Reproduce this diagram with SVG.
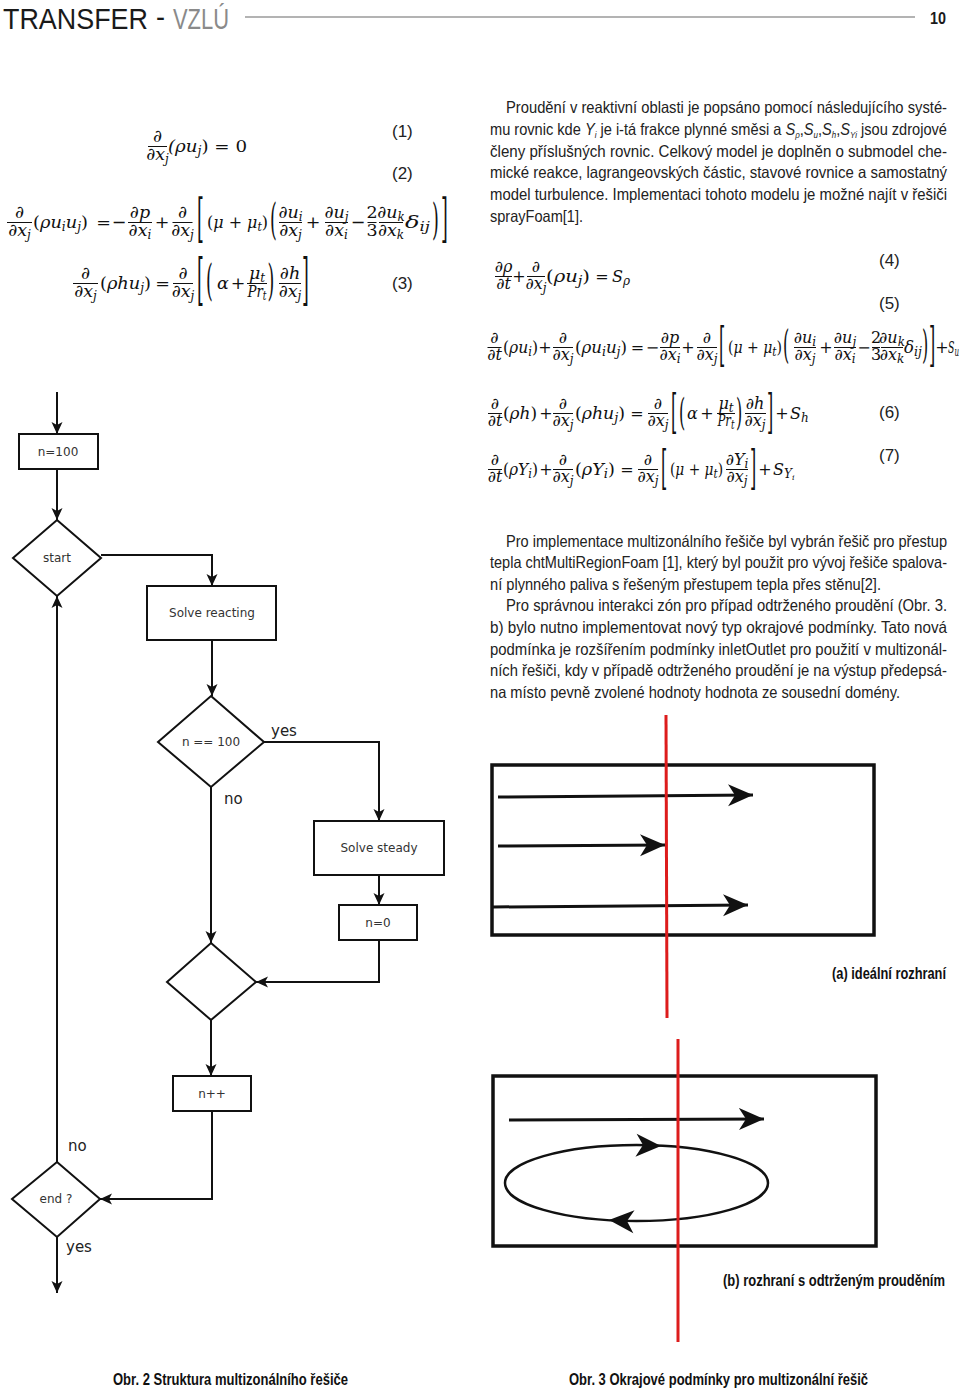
<svg xmlns="http://www.w3.org/2000/svg" width="960" height="1390" viewBox="0 0 960 1390">
<style>
.bg{fill:#fff}
.m{font-family:"DejaVu Serif","Liberation Serif",serif;font-style:italic;font-size:17.5px;fill:#111}
.rr{font-size:16px}
.up{font-style:normal}
.sb{font-size:12px}
.bar{stroke:#111;stroke-width:1}
.en{font-family:"Liberation Sans",Arial,sans-serif;font-size:17px;fill:#222}
.bt{font-family:"Liberation Sans Narrow","Liberation Sans",Arial,sans-serif;font-size:16.5px;fill:#222}
.cap{font-family:"Liberation Sans Narrow","Liberation Sans",Arial,sans-serif;font-size:16px;font-weight:bold;fill:#111}
.fl{fill:none;stroke:#111;stroke-width:2}
.nd{fill:#fff;stroke:#111;stroke-width:2}
.ft{font-family:"DejaVu Sans","Noto Sans",sans-serif;font-size:12px;fill:#333;text-anchor:middle}
.lb{font-family:"DejaVu Sans","Noto Sans",sans-serif;font-size:15px;fill:#222}
.fig{fill:none;stroke:#111;stroke-width:3.5}
.red{stroke:#dd1c1c;stroke-width:3}
.fa{stroke:#111;stroke-width:3;fill:none}
</style>
<defs>
<marker id="ah" markerWidth="12" markerHeight="12" refX="12" refY="6" orient="auto" markerUnits="userSpaceOnUse"><path d="M0,0.5 L12,6 L0,11.5 L3,6 z" fill="#111"/></marker>
<marker id="bh" markerWidth="26" markerHeight="24" refX="25" refY="12" orient="auto" markerUnits="userSpaceOnUse"><path d="M0,1 L25,12 L0,23 L7,12 z" fill="#111"/></marker>
</defs>
<rect class="bg" x="0" y="0" width="960" height="1390"/>

<g id="header">
<text x="3" y="29" font-family="Liberation Sans Narrow,Liberation Sans,Arial,sans-serif" font-size="30" fill="#1a1a1a" textLength="145" lengthAdjust="spacingAndGlyphs">TRANSFER</text>
<text x="156" y="27" font-family="Liberation Sans,Arial,sans-serif" font-size="30" fill="#1a1a1a" textLength="9" lengthAdjust="spacingAndGlyphs">-</text>
<text x="173" y="29" font-family="Liberation Sans Narrow,Liberation Sans,Arial,sans-serif" font-size="30" fill="#8a8a8a" textLength="56" lengthAdjust="spacingAndGlyphs">VZLÚ</text>
<line x1="245" y1="17" x2="915" y2="17" stroke="#9a9a9a" stroke-width="1.5"/>
<text x="930" y="24" font-family="Liberation Sans,Arial,sans-serif" font-size="17" font-weight="bold" fill="#1a1a1a" textLength="16" lengthAdjust="spacingAndGlyphs">10</text>
</g>

<g id="eq1">
<text class="m" x="157.5" y="142" text-anchor="middle">∂</text>
<line class="bar" x1="148" y1="146.5" x2="167" y2="146.5"/>
<text class="m" x="157.5" y="160" text-anchor="middle">∂x<tspan class="sb" dy="3">j</tspan></text>
<text class="m" x="168" y="152" textLength="79" lengthAdjust="spacingAndGlyphs">(ρu<tspan class="sb" dy="3">j</tspan><tspan class="up" dy="-3">) = 0</tspan></text>
<text class="en" x="392" y="137">(1)</text>
</g>

<g id="eq2">
<text class="m" x="19.5" y="218" text-anchor="middle">∂</text>
<line class="bar" x1="7" y1="222.5" x2="32" y2="222.5"/>
<text class="m" x="19.5" y="236" text-anchor="middle">∂x<tspan class="sb" dy="3">j</tspan></text>
<text class="m" x="33" y="228" textLength="55" lengthAdjust="spacingAndGlyphs"><tspan class="up">(</tspan>ρu<tspan class="sb" dy="3">i</tspan><tspan dy="-3">u</tspan><tspan class="sb" dy="3">j</tspan><tspan class="up" dy="-3">)</tspan></text>
<text class="m up" x="103.5" y="228" text-anchor="middle">=</text>
<text class="m up" x="119" y="228" text-anchor="middle">−</text>
<text class="m" x="140" y="218" text-anchor="middle">∂p</text>
<line class="bar" x1="128" y1="222.5" x2="152" y2="222.5"/>
<text class="m" x="140" y="236" text-anchor="middle">∂x<tspan class="sb" dy="3">i</tspan></text>
<text class="m up" x="162" y="228" text-anchor="middle">+</text>
<text class="m" x="182.5" y="218" text-anchor="middle">∂</text>
<line class="bar" x1="172.5" y1="222.5" x2="192.5" y2="222.5"/>
<text class="m" x="182.5" y="236" text-anchor="middle">∂x<tspan class="sb" dy="3">j</tspan></text>
<text class="m up" transform="translate(197,221) scale(1,3)" y="5">[</text>
<text class="m" x="207" y="228" textLength="61" lengthAdjust="spacingAndGlyphs"><tspan class="up">(</tspan>μ <tspan class="up">+</tspan> μ<tspan class="sb" dy="3">t</tspan><tspan class="up" dy="-3">)</tspan></text>
<text class="m up" transform="translate(270,221) scale(1,2.5)" y="5">(</text>
<text class="m" x="290.5" y="218" text-anchor="middle">∂u<tspan class="sb" dy="3">i</tspan></text>
<line class="bar" x1="279" y1="222.5" x2="302" y2="222.5"/>
<text class="m" x="290.5" y="236" text-anchor="middle">∂x<tspan class="sb" dy="3">j</tspan></text>
<text class="m up" x="313" y="228" text-anchor="middle">+</text>
<text class="m" x="336.5" y="218" text-anchor="middle">∂u<tspan class="sb" dy="3">j</tspan></text>
<line class="bar" x1="325" y1="222.5" x2="348" y2="222.5"/>
<text class="m" x="336.5" y="236" text-anchor="middle">∂x<tspan class="sb" dy="3">i</tspan></text>
<text class="m up" x="358" y="228" text-anchor="middle">−</text>
<text class="m up" x="372" y="218" text-anchor="middle">2</text>
<line class="bar" x1="367.5" y1="222.5" x2="376.5" y2="222.5"/>
<text class="m up" x="372" y="236" text-anchor="middle">3</text>
<text class="m" x="391" y="218" text-anchor="middle">∂u<tspan class="sb" dy="3">k</tspan></text>
<line class="bar" x1="379" y1="222.5" x2="403" y2="222.5"/>
<text class="m" x="391" y="236" text-anchor="middle">∂x<tspan class="sb" dy="3">k</tspan></text>
<text class="m" x="405" y="228" textLength="25" lengthAdjust="spacingAndGlyphs">δ<tspan class="sb" dy="3">ij</tspan></text>
<text class="m up" transform="translate(432,221) scale(1,2.5)" y="5">)</text>
<text class="m up" transform="translate(441,221) scale(1,3)" y="5">]</text>
<text class="en" x="392" y="179">(2)</text>
</g>

<g id="eq3">
<text class="m" x="85.5" y="279" text-anchor="middle">∂</text>
<line class="bar" x1="73" y1="283.5" x2="98" y2="283.5"/>
<text class="m" x="85.5" y="297" text-anchor="middle">∂x<tspan class="sb" dy="3">j</tspan></text>
<text class="m" x="100" y="289" textLength="51" lengthAdjust="spacingAndGlyphs"><tspan class="up">(</tspan>ρhu<tspan class="sb" dy="3">j</tspan><tspan class="up" dy="-3">)</tspan></text>
<text class="m up" x="162.5" y="289" text-anchor="middle">=</text>
<text class="m" x="183" y="279" text-anchor="middle">∂</text>
<line class="bar" x1="173" y1="283.5" x2="193" y2="283.5"/>
<text class="m" x="183" y="297" text-anchor="middle">∂x<tspan class="sb" dy="3">j</tspan></text>
<text class="m up" transform="translate(197,283) scale(1,3.2)" y="5">[</text>
<text class="m up" transform="translate(206,283) scale(1,2.4)" y="5">(</text>
<text class="m" x="217" y="289">α</text>
<text class="m up" x="238" y="289" text-anchor="middle">+</text>
<text class="m" x="257" y="279" text-anchor="middle">μ<tspan class="sb" dy="3">t</tspan></text>
<line class="bar" x1="247" y1="283.5" x2="267" y2="283.5"/>
<text class="m" x="257" y="297" text-anchor="middle" textLength="19" lengthAdjust="spacingAndGlyphs">Pr<tspan class="sb" dy="3">t</tspan></text>
<text class="m up" transform="translate(267.5,283) scale(1,2.4)" y="5">)</text>
<text class="m" x="290" y="279" text-anchor="middle">∂h</text>
<line class="bar" x1="279" y1="283.5" x2="301" y2="283.5"/>
<text class="m" x="290" y="297" text-anchor="middle">∂x<tspan class="sb" dy="3">j</tspan></text>
<text class="m up" transform="translate(302,283) scale(1,3.2)" y="5">]</text>
<text class="en" x="392" y="289">(3)</text>
</g>

<g id="para1">
<text class="bt" x="506" y="113" textLength="441" lengthAdjust="spacingAndGlyphs">Proudění v reaktivní oblasti je popsáno pomocí následujícího systé-</text>
<text class="bt" x="490" y="135" textLength="457" lengthAdjust="spacingAndGlyphs">mu rovnic kde <tspan font-style="italic">Y</tspan><tspan font-size="9" font-style="italic" dy="3">i</tspan><tspan dy="-3"> je i-tá frakce plynné směsi a </tspan><tspan font-style="italic">S</tspan><tspan font-size="9" font-style="italic" dy="3">ρ</tspan><tspan dy="-3">,</tspan><tspan font-style="italic">S</tspan><tspan font-size="9" font-style="italic" dy="3">u</tspan><tspan dy="-3">,</tspan><tspan font-style="italic">S</tspan><tspan font-size="9" font-style="italic" dy="3">h</tspan><tspan dy="-3">,</tspan><tspan font-style="italic">S</tspan><tspan font-size="9" font-style="italic" dy="3">Yi</tspan><tspan dy="-3"> jsou zdrojové</tspan></text>
<text class="bt" x="490" y="157" textLength="457" lengthAdjust="spacingAndGlyphs">členy příslušných rovnic. Celkový model je doplněn o submodel che-</text>
<text class="bt" x="490" y="178" textLength="457" lengthAdjust="spacingAndGlyphs">mické reakce, lagrangeovských částic, stavové rovnice a samostatný</text>
<text class="bt" x="490" y="200" textLength="457" lengthAdjust="spacingAndGlyphs">model turbulence. Implementaci tohoto modelu je možné najít v řešiči</text>
<text class="bt" x="490" y="222" textLength="93" lengthAdjust="spacingAndGlyphs">sprayFoam[1].</text>
</g>

<g id="eq4">
<text class="m rr" x="503.5" y="272" text-anchor="middle">∂ρ</text>
<line class="bar" x1="495" y1="276.5" x2="512" y2="276.5"/>
<text class="m rr" x="503.5" y="289" text-anchor="middle">∂t</text>
<text class="m rr up" x="519" y="282" text-anchor="middle">+</text>
<text class="m rr" x="536" y="272" text-anchor="middle">∂</text>
<line class="bar" x1="527" y1="276.5" x2="545" y2="276.5"/>
<text class="m rr" x="536" y="289" text-anchor="middle">∂x<tspan class="sb" dy="3">j</tspan></text>
<text class="m rr" x="546" y="282" textLength="44" lengthAdjust="spacingAndGlyphs"><tspan class="up">(</tspan>ρu<tspan class="sb" dy="3">j</tspan><tspan class="up" dy="-3">)</tspan></text>
<text class="m rr up" x="602" y="282" text-anchor="middle">=</text>
<text class="m rr" x="612" y="282">S<tspan class="sb" dy="3">ρ</tspan></text>
<text class="en" x="879" y="266">(4)</text>
</g>

<g id="eq5">
<text class="m rr" x="494.5" y="343" text-anchor="middle">∂</text>
<line class="bar" x1="487.5" y1="347.5" x2="501.5" y2="347.5"/>
<text class="m rr" x="494.5" y="360" text-anchor="middle">∂t</text>
<text class="m rr" x="503" y="353" textLength="35" lengthAdjust="spacingAndGlyphs"><tspan class="up">(</tspan>ρu<tspan class="sb" dy="3">i</tspan><tspan class="up" dy="-3">)</tspan></text>
<text class="m rr up" x="545" y="353" text-anchor="middle">+</text>
<text class="m rr" x="563" y="343" text-anchor="middle">∂</text>
<line class="bar" x1="553" y1="347.5" x2="573" y2="347.5"/>
<text class="m rr" x="563" y="360" text-anchor="middle">∂x<tspan class="sb" dy="3">j</tspan></text>
<text class="m rr" x="575" y="353" textLength="52" lengthAdjust="spacingAndGlyphs"><tspan class="up">(</tspan>ρu<tspan class="sb" dy="3">i</tspan><tspan dy="-3">u</tspan><tspan class="sb" dy="3">j</tspan><tspan class="up" dy="-3">)</tspan></text>
<text class="m rr up" x="637.5" y="353" text-anchor="middle">=</text>
<text class="m rr up" x="652.5" y="353" text-anchor="middle">−</text>
<text class="m rr" x="670" y="343" text-anchor="middle">∂p</text>
<line class="bar" x1="660" y1="347.5" x2="680" y2="347.5"/>
<text class="m rr" x="670" y="360" text-anchor="middle">∂x<tspan class="sb" dy="3">i</tspan></text>
<text class="m rr up" x="688" y="353" text-anchor="middle">+</text>
<text class="m rr" x="707" y="343" text-anchor="middle">∂</text>
<line class="bar" x1="697" y1="347.5" x2="717" y2="347.5"/>
<text class="m rr" x="707" y="360" text-anchor="middle">∂x<tspan class="sb" dy="3">j</tspan></text>
<text class="m rr up" transform="translate(719,346) scale(1,2.9)" y="5">[</text>
<text class="m rr" x="728" y="353" textLength="54" lengthAdjust="spacingAndGlyphs"><tspan class="up">(</tspan>μ <tspan class="up">+</tspan> μ<tspan class="sb" dy="3">t</tspan><tspan class="up" dy="-3">)</tspan></text>
<text class="m rr up" transform="translate(783,346) scale(1,2.4)" y="5">(</text>
<text class="m rr" x="805" y="343" text-anchor="middle">∂u<tspan class="sb" dy="3">i</tspan></text>
<line class="bar" x1="794" y1="347.5" x2="816" y2="347.5"/>
<text class="m rr" x="805" y="360" text-anchor="middle">∂x<tspan class="sb" dy="3">j</tspan></text>
<text class="m rr up" x="826" y="353" text-anchor="middle">+</text>
<text class="m rr" x="845" y="343" text-anchor="middle">∂u<tspan class="sb" dy="3">j</tspan></text>
<line class="bar" x1="834" y1="347.5" x2="856" y2="347.5"/>
<text class="m rr" x="845" y="360" text-anchor="middle">∂x<tspan class="sb" dy="3">i</tspan></text>
<text class="m rr up" x="864" y="353" text-anchor="middle">−</text>
<text class="m rr up" x="876" y="343" text-anchor="middle">2</text>
<line class="bar" x1="872" y1="347.5" x2="880" y2="347.5"/>
<text class="m rr up" x="876" y="360" text-anchor="middle">3</text>
<text class="m rr" x="892" y="343" text-anchor="middle">∂u<tspan class="sb" dy="3">k</tspan></text>
<line class="bar" x1="881" y1="347.5" x2="903" y2="347.5"/>
<text class="m rr" x="892" y="360" text-anchor="middle">∂x<tspan class="sb" dy="3">k</tspan></text>
<text class="m rr" x="904" y="353" textLength="18" lengthAdjust="spacingAndGlyphs">δ<tspan class="sb" dy="3">ij</tspan></text>
<text class="m rr up" transform="translate(922,346) scale(1,2.4)" y="5">)</text>
<text class="m rr up" transform="translate(929,346) scale(1,2.9)" y="5">]</text>
<text class="m rr up" x="942" y="353" text-anchor="middle">+</text>
<text class="m rr" x="948" y="353" textLength="11" lengthAdjust="spacingAndGlyphs">S<tspan class="sb" dy="3">u</tspan></text>
<text class="en" x="879" y="309">(5)</text>
</g>

<g id="eq6">
<text class="m rr" x="495" y="409" text-anchor="middle">∂</text>
<line class="bar" x1="488" y1="413.5" x2="502" y2="413.5"/>
<text class="m rr" x="495" y="426" text-anchor="middle">∂t</text>
<text class="m rr" x="503" y="419" textLength="34" lengthAdjust="spacingAndGlyphs"><tspan class="up">(</tspan>ρh<tspan class="up">)</tspan></text>
<text class="m rr up" x="546" y="419" text-anchor="middle">+</text>
<text class="m rr" x="563" y="409" text-anchor="middle">∂</text>
<line class="bar" x1="553" y1="413.5" x2="573" y2="413.5"/>
<text class="m rr" x="563" y="426" text-anchor="middle">∂x<tspan class="sb" dy="3">j</tspan></text>
<text class="m rr" x="575" y="419" textLength="50" lengthAdjust="spacingAndGlyphs"><tspan class="up">(</tspan>ρhu<tspan class="sb" dy="3">j</tspan><tspan class="up" dy="-3">)</tspan></text>
<text class="m rr up" x="637" y="419" text-anchor="middle">=</text>
<text class="m rr" x="658" y="409" text-anchor="middle">∂</text>
<line class="bar" x1="648" y1="413.5" x2="668" y2="413.5"/>
<text class="m rr" x="658" y="426" text-anchor="middle">∂x<tspan class="sb" dy="3">j</tspan></text>
<text class="m rr up" transform="translate(671,413) scale(1,2.9)" y="5">[</text>
<text class="m rr up" transform="translate(679,413) scale(1,2.3)" y="5">(</text>
<text class="m rr" x="687" y="419">α</text>
<text class="m rr up" x="707" y="419" text-anchor="middle">+</text>
<text class="m rr" x="726" y="409" text-anchor="middle">μ<tspan class="sb" dy="3">t</tspan></text>
<line class="bar" x1="717" y1="413.5" x2="735" y2="413.5"/>
<text class="m rr" x="726" y="426" text-anchor="middle" textLength="17" lengthAdjust="spacingAndGlyphs">Pr<tspan class="sb" dy="3">t</tspan></text>
<text class="m rr up" transform="translate(736,413) scale(1,2.3)" y="5">)</text>
<text class="m rr" x="755" y="409" text-anchor="middle">∂h</text>
<line class="bar" x1="745" y1="413.5" x2="766" y2="413.5"/>
<text class="m rr" x="755" y="426" text-anchor="middle">∂x<tspan class="sb" dy="3">j</tspan></text>
<text class="m rr up" transform="translate(767,413) scale(1,2.9)" y="5">]</text>
<text class="m rr up" x="782" y="419" text-anchor="middle">+</text>
<text class="m rr" x="790" y="419">S<tspan class="sb" dy="3">h</tspan></text>
<text class="en" x="879" y="418">(6)</text>
</g>

<g id="eq7">
<text class="m rr" x="495" y="465" text-anchor="middle">∂</text>
<line class="bar" x1="488" y1="469.5" x2="502" y2="469.5"/>
<text class="m rr" x="495" y="482" text-anchor="middle">∂t</text>
<text class="m rr" x="503" y="475" textLength="35" lengthAdjust="spacingAndGlyphs"><tspan class="up">(</tspan>ρY<tspan class="sb" dy="3">i</tspan><tspan class="up" dy="-3">)</tspan></text>
<text class="m rr up" x="546" y="475" text-anchor="middle">+</text>
<text class="m rr" x="563" y="465" text-anchor="middle">∂</text>
<line class="bar" x1="553" y1="469.5" x2="573" y2="469.5"/>
<text class="m rr" x="563" y="482" text-anchor="middle">∂x<tspan class="sb" dy="3">j</tspan></text>
<text class="m rr" x="575" y="475" textLength="40" lengthAdjust="spacingAndGlyphs"><tspan class="up">(</tspan>ρY<tspan class="sb" dy="3">i</tspan><tspan class="up" dy="-3">)</tspan></text>
<text class="m rr up" x="627" y="475" text-anchor="middle">=</text>
<text class="m rr" x="648" y="465" text-anchor="middle">∂</text>
<line class="bar" x1="638" y1="469.5" x2="658" y2="469.5"/>
<text class="m rr" x="648" y="482" text-anchor="middle">∂x<tspan class="sb" dy="3">j</tspan></text>
<text class="m rr up" transform="translate(661,469) scale(1,2.9)" y="5">[</text>
<text class="m rr" x="670" y="475" textLength="53" lengthAdjust="spacingAndGlyphs"><tspan class="up">(</tspan>μ <tspan class="up">+</tspan> μ<tspan class="sb" dy="3">t</tspan><tspan class="up" dy="-3">)</tspan></text>
<text class="m rr" x="737" y="465" text-anchor="middle">∂Y<tspan class="sb" dy="3">i</tspan></text>
<line class="bar" x1="726" y1="469.5" x2="748" y2="469.5"/>
<text class="m rr" x="737" y="482" text-anchor="middle">∂x<tspan class="sb" dy="3">j</tspan></text>
<text class="m rr up" transform="translate(750,469) scale(1,2.9)" y="5">]</text>
<text class="m rr up" x="765" y="475" text-anchor="middle">+</text>
<text class="m rr" x="773" y="475">S<tspan class="sb" dy="3">Y</tspan><tspan font-size="8" dy="2">i</tspan></text>
<text class="en" x="879" y="461">(7)</text>
</g>

<g id="para2">
<text class="bt" x="506" y="547" textLength="441" lengthAdjust="spacingAndGlyphs">Pro implementace multizonálního řešiče byl vybrán řešič pro přestup</text>
<text class="bt" x="490" y="568" textLength="457" lengthAdjust="spacingAndGlyphs">tepla chtMultiRegionFoam [1], který byl použit pro vývoj řešiče spalova-</text>
<text class="bt" x="490" y="590" textLength="391" lengthAdjust="spacingAndGlyphs">ní plynného paliva s řešeným přestupem tepla přes stěnu[2].</text>
<text class="bt" x="506" y="611" textLength="441" lengthAdjust="spacingAndGlyphs">Pro správnou interakci zón pro případ odtrženého proudění (Obr. 3.</text>
<text class="bt" x="490" y="633" textLength="457" lengthAdjust="spacingAndGlyphs">b) bylo nutno implementovat nový typ okrajové podmínky. Tato nová</text>
<text class="bt" x="490" y="655" textLength="457" lengthAdjust="spacingAndGlyphs">podmínka je rozšířením podmínky inletOutlet pro použití v multizonál-</text>
<text class="bt" x="490" y="676" textLength="457" lengthAdjust="spacingAndGlyphs">ních řešiči, kdy v případě odtrženého proudění je na výstup předepsá-</text>
<text class="bt" x="490" y="698" textLength="410" lengthAdjust="spacingAndGlyphs">na místo pevně zvolené hodnoty hodnota ze sousední domény.</text>
</g>

<g id="connectors">
<path class="fl" d="M57,392 V434" marker-end="url(#ah)"/>
<path class="fl" d="M57,469 V520" marker-end="url(#ah)"/>
<path class="fl" d="M101,555 H212 V586" marker-end="url(#ah)"/>
<path class="fl" d="M212,640 V696" marker-end="url(#ah)"/>
<path class="fl" d="M264,742 H379 V821" marker-end="url(#ah)"/>
<path class="fl" d="M379,875 V905" marker-end="url(#ah)"/>
<path class="fl" d="M379,940 V982 H256" marker-end="url(#ah)"/>
<path class="fl" d="M211,787 V943" marker-end="url(#ah)"/>
<path class="fl" d="M211,1020 V1076" marker-end="url(#ah)"/>
<path class="fl" d="M212,1111 V1199 H100" marker-end="url(#ah)"/>
<path class="fl" d="M57,1162 V596" marker-end="url(#ah)"/>
<path class="fl" d="M57,1237 V1293" marker-end="url(#ah)"/>
<text class="lb" x="271" y="736">yes</text>
<text class="lb" x="224" y="804">no</text>
<text class="lb" x="68" y="1151">no</text>
<text class="lb" x="66" y="1252">yes</text>
</g>

<g id="n100"><rect class="nd" x="19" y="434" width="79" height="35"/><text class="ft" x="58" y="456">n=100</text></g>
<g id="start"><polygon class="nd" points="57,520 101,558 57,596 13,558"/><text class="ft" x="57" y="562">start</text></g>
<g id="solve-reacting"><rect class="nd" x="147" y="586" width="129" height="54"/><text class="ft" x="212" y="617">Solve reacting</text></g>
<g id="n-eq-100"><polygon class="nd" points="211,696 264,742 211,787 158,742"/><text class="ft" x="211" y="746">n == 100</text></g>
<g id="solve-steady"><rect class="nd" x="314" y="821" width="130" height="54"/><text class="ft" x="379" y="852">Solve steady</text></g>
<g id="n0"><rect class="nd" x="339" y="905" width="78" height="35"/><text class="ft" x="378" y="927">n=0</text></g>
<g id="merge"><polygon class="nd" points="211,943 256,982 211,1020 167,982"/></g>
<g id="nplus"><rect class="nd" x="173" y="1076" width="78" height="35"/><text class="ft" x="212" y="1098">n++</text></g>
<g id="end"><polygon class="nd" points="57,1162 100,1199 57,1237 12,1199"/><text class="ft" x="56" y="1203">end ?</text></g>

<text class="cap" x="113" y="1385" textLength="235" lengthAdjust="spacingAndGlyphs">Obr. 2 Struktura multizonálního řešiče</text>

<g id="fig3a">
<rect class="fig" x="492" y="765" width="382" height="170"/>
<path class="fa" d="M498,797 L753,795" marker-end="url(#bh)"/>
<path class="fa" d="M498,846 L665,845" marker-end="url(#bh)"/>
<path class="fa" d="M493,907 L748,905" marker-end="url(#bh)"/>
<line class="red" x1="666" y1="715" x2="667" y2="1018"/>
<text class="cap" x="946" y="979" text-anchor="end" textLength="114" lengthAdjust="spacingAndGlyphs">(a) ideální rozhraní</text>
</g>

<g id="fig3b">
<rect class="fig" x="493" y="1076" width="383" height="170"/>
<path class="fa" d="M509,1120 L764,1119" marker-end="url(#bh)"/>
<ellipse cx="636.5" cy="1183" rx="131.5" ry="38" fill="none" stroke="#111" stroke-width="2.5"/>
<path d="M661,1146 L636,1135 L643,1146 L636,1158 z" fill="#111" transform="rotate(3 661 1146)"/>
<path d="M609,1220 L634,1209 L627,1220 L634,1232 z" fill="#111" transform="rotate(3 609 1220)"/>
<line class="red" x1="678" y1="1039" x2="678" y2="1342"/>
<text class="cap" x="945" y="1286" text-anchor="end" textLength="222" lengthAdjust="spacingAndGlyphs">(b) rozhraní s odtrženým prouděním</text>
</g>

<text class="cap" x="569" y="1385" textLength="299" lengthAdjust="spacingAndGlyphs">Obr. 3 Okrajové podmínky pro multizonální řešič</text>
</svg>
